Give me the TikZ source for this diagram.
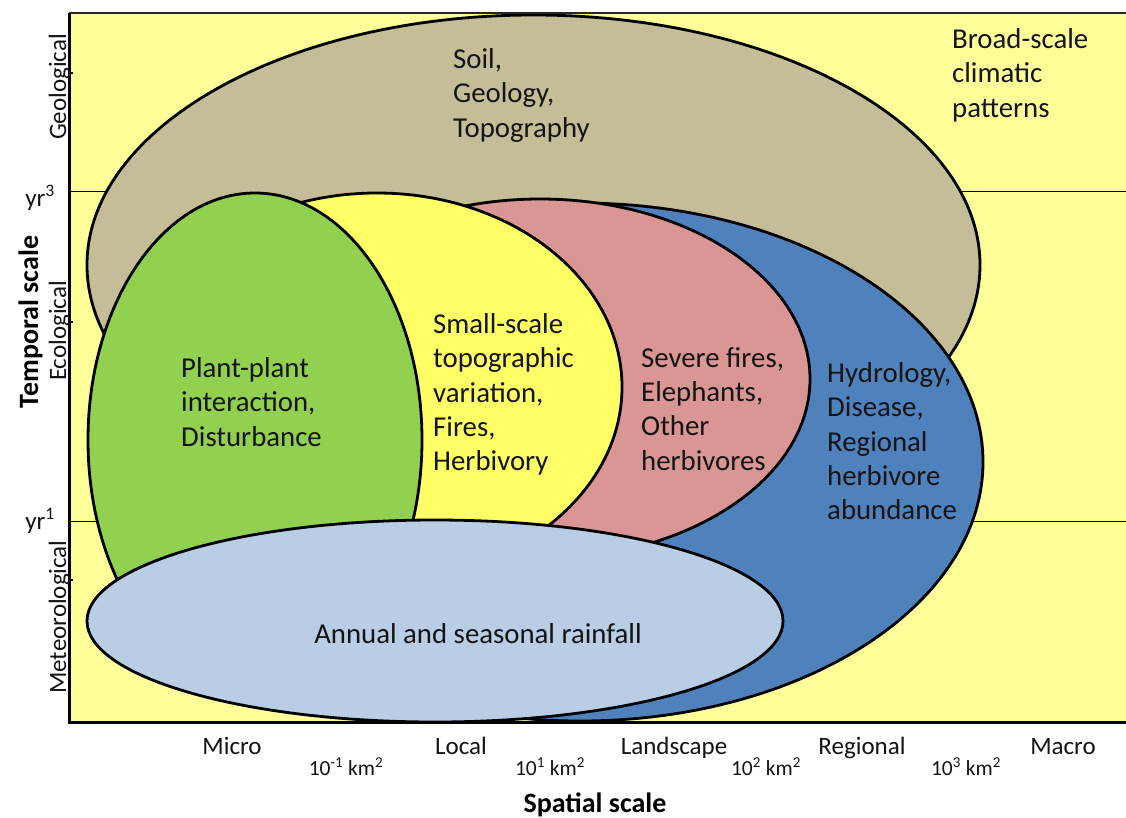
\documentclass[tikz,border=0pt]{standalone}
\usepackage{fontspec}
\setmainfont{Carlito}
\definecolor{bgyellow}{RGB}{255,255,153}
\definecolor{tanc}{RGB}{196,189,151}
\definecolor{greenc}{RGB}{146,208,80}
\definecolor{yellowc}{RGB}{255,255,102}
\definecolor{pinkc}{RGB}{217,150,148}
\definecolor{bluec}{RGB}{79,129,189}
\definecolor{lbluec}{RGB}{185,205,229}
\definecolor{txt}{RGB}{20,20,20}
\begin{document}
\begin{tikzpicture}[x=1pt,y=-1pt,
  blob/.style={draw=black,line width=2.8pt},
  lbl/.style={align=left,anchor=north west,inner sep=0pt,text=txt,
    font=\fontsize{28.8}{34.4}\selectfont,execute at begin node={\strut}},
  axlbl/.style={rotate=90,anchor=base,inner sep=0pt,text=txt,font=\fontsize{25}{28}\selectfont},
  xlbl/.style={anchor=base,inner sep=0pt,text=txt,font=\fontsize{25}{28}\selectfont},
  kmlbl/.style={anchor=base,inner sep=0pt,text=txt,font=\fontsize{21.5}{24}\selectfont},
  title/.style={anchor=base,inner sep=0pt,text=black,font=\fontsize{28}{32}\selectfont\bfseries}]
\useasboundingbox (0,0) rectangle (1126,817);
\fill[white] (0,0) rectangle (1126,817);
\fill[bgyellow] (69,13) rectangle (1126,722);
% grid lines
\draw[line width=1pt] (69,191) -- (1126,191);
\draw[line width=1pt] (69,521) -- (1126,521);
% ellipses
\draw[blob,fill=tanc] (533.5,265) ellipse [x radius=446.5pt, y radius=250pt];
\draw[blob,fill=bluec] (580,462) ellipse [x radius=403pt, y radius=259pt];
\draw[blob,fill=pinkc] (540,379) ellipse [x radius=270pt, y radius=180pt];
\draw[blob,fill=yellowc] (377,387) ellipse [x radius=245pt, y radius=194pt];
\draw[blob,fill=greenc] (255,440) ellipse [x radius=167pt, y radius=247pt];
\draw[blob,fill=lbluec] (435,621) ellipse [x radius=348pt, y radius=101pt];
% axes
\draw[line width=2pt,black!85] (69,13) -- (1126,13);
\draw[line width=3pt] (1126,722) -- (69,722) -- (69,13);
\foreach \ty in {73,322,580} \draw[line width=2pt] (69,\ty) -- (73,\ty);
% region labels
\node[lbl] (soil) at (453,48) {Soil,\\Geology,\\Topography};
\node[lbl] (broad) at (952,28) {Broad-scale\\climatic\\patterns};
\node[lbl] (plant) at (181,357) {Plant-plant\\interaction,\\Disturbance};
\node[lbl] (small) at (433,313) {Small-scale\\topographic\\variation,\\Fires,\\Herbivory};
\node[lbl] (severe) at (641,347) {Severe fires,\\Elephants,\\Other\\herbivores};
\node[lbl] (hydro) at (827,362) {Hydrology,\\Disease,\\Regional\\herbivore\\abundance};
\node[anchor=base,inner sep=0pt,text=txt,font=\fontsize{28.8}{34}\selectfont] (rain) at (478,643) {Annual and seasonal rainfall};
% left axis
\node[axlbl] (geo) at (66,87) {Geological};
\node[axlbl] (eco) at (66,331) {Ecological};
\node[axlbl] (met) at (66,617) {Meteorological};
\node[xlbl] (yr3) at (40,206) {yr\textsuperscript{3}};
\node[xlbl] (yr1) at (40,529) {yr\textsuperscript{1}};
\node[title,rotate=90] (temporal) at (38,322) {Temporal scale};
% bottom axis
\node[xlbl] (micro) at (232,754) {Micro};
\node[xlbl] (local) at (461,754) {Local};
\node[xlbl] (landscape) at (674,754) {Landscape};
\node[xlbl] (regional) at (862,754) {Regional};
\node[xlbl] (macro) at (1063,754) {Macro};
\node[kmlbl] (k1) at (346,775) {10\textsuperscript{-1} km\textsuperscript{2}};
\node[kmlbl] (k2) at (550,775) {10\textsuperscript{1} km\textsuperscript{2}};
\node[kmlbl] (k3) at (766,775) {10\textsuperscript{2} km\textsuperscript{2}};
\node[kmlbl] (k4) at (966,775) {10\textsuperscript{3} km\textsuperscript{2}};
\node[title] (spatial) at (595,812) {Spatial scale};
\end{tikzpicture}
\end{document}
